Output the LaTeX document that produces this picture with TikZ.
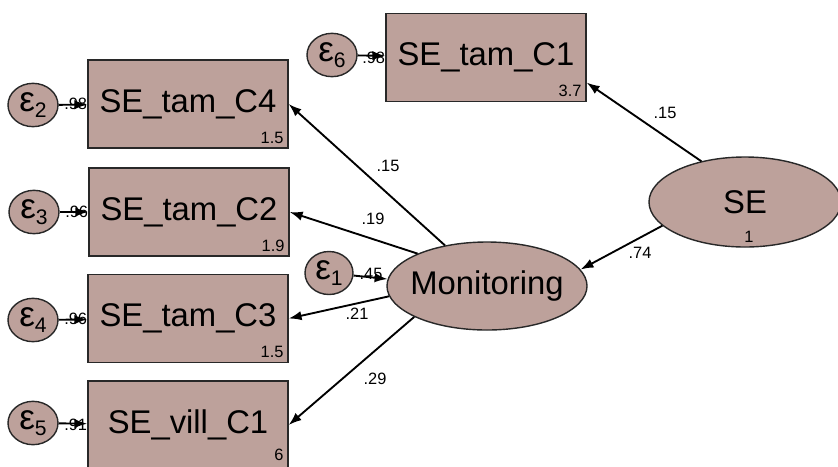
\documentclass[tikz,border=0pt]{standalone}
\usepackage{fontspec}
\setmainfont{Liberation Sans}
\usetikzlibrary{arrows.meta,shapes.geometric}
\usepackage{xcolor}

\definecolor{semfill}{RGB}{189,161,155}
\definecolor{semline}{RGB}{40,40,40}

\newcommand{\errlab}[1]{{\fontsize{30}{30}\selectfont ε}\raisebox{-5pt}{\fontsize{18}{18}\selectfont #1}}

\begin{document}
\begin{tikzpicture}[x=0.03cm, y=-0.03cm,
    every node/.style={
        inner sep=0pt,
        font=\fontsize{28}{30}\selectfont
    },
    obsbox/.style={rectangle, draw=semline, line width=1.2pt, fill=semfill,
        minimum width=6cm, minimum height=2.64cm},
    latent/.style={ellipse, draw=semline, line width=1.2pt, fill=semfill},
    errcirc/.style={ellipse, draw=semline, line width=1.2pt, fill=semfill,
        minimum width=1.5cm, minimum height=1.3cm},
    coef/.style={font=\fontsize{14}{14}\selectfont},
    varlab/.style={font=\fontsize{14}{14}\selectfont},
    link/.style={-{Latex[length=11pt,width=8pt]}, line width=1.6pt, black}
]

    \useasboundingbox (0,0) rectangle (838,466);



    \node (se_tam_c1) [obsbox, shift={(486,57.5)}]
    {
        SE\_tam\_C1
    };

    \node (se_tam_c4) [obsbox, shift={(188,104)}]
    {
        SE\_tam\_C4
    };

    \node (se_tam_c2) [obsbox, shift={(189,212)}]
    {
        SE\_tam\_C2
    };

    \node (se_tam_c3) [obsbox, shift={(188,318.5)}]
    {
        SE\_tam\_C3
    };

    \node (se_vill_c1) [obsbox, shift={(188,425)}]
    {
        SE\_vill\_C1
    };

    \node (se_tam_c1_var) [varlab, anchor=south east] at ([shift={(-5,-5)}]se_tam_c1.south east) {3.7};
    \node (se_tam_c4_var) [varlab, anchor=south east] at ([shift={(-5,-5)}]se_tam_c4.south east) {1.5};
    \node (se_tam_c2_var) [varlab, anchor=south east] at ([shift={(-5,-5)}]se_tam_c2.south east) {1.9};
    \node (se_tam_c3_var) [varlab, anchor=south east] at ([shift={(-5,-5)}]se_tam_c3.south east) {1.5};
    \node (se_vill_c1_var) [varlab, anchor=south east] at ([shift={(-5,-9)}]se_vill_c1.south east) {6};



    \node (monitoring) [latent, inner xsep=-5pt, minimum width=6cm, minimum height=2.64cm, shift={(487,286)}]
    {
        Monitoring
    };

    \node (se) [latent, minimum width=5.76cm, minimum height=2.7cm, shift={(745,202)}]
    {
        SE
    };

    \node (se_var) [varlab, anchor=south] at ([shift={(4,-5)}]se.south) {1};



    \node (eps_1) [errcirc, minimum width=1.44cm, minimum height=1.29cm, shift={(329,273)}] {\errlab{1}};
    \node (eps_2) [errcirc, shift={(33,105)}] {\errlab{2}};
    \node (eps_3) [errcirc, shift={(34,212)}] {\errlab{3}};
    \node (eps_4) [errcirc, shift={(33,320)}] {\errlab{4}};
    \node (eps_5) [errcirc, shift={(33,423)}] {\errlab{5}};
    \node (eps_6) [errcirc, shift={(332,55)}] {\errlab{6}};


    % error variances, under the arrow heads
    \node (eps_1_coef) [coef] at (371,274) {.45};
    \node (eps_2_coef) [coef, anchor=east] at (se_tam_c4.west) {.98};
    \node (eps_3_coef) [coef, anchor=east] at (se_tam_c2.west) {.96};
    \node (eps_4_coef) [coef, anchor=east] at (se_tam_c3.west) {.96};
    \node (eps_5_coef) [coef, anchor=east] at (se_vill_c1.west) {.91};
    \node (eps_6_coef) [coef, anchor=east] at (se_tam_c1.west) {.98};


    \draw[link] (eps_1) to (monitoring.176);
    \draw[link] (eps_2) to (se_tam_c4);
    \draw[link] (eps_3) to (se_tam_c2);
    \draw[link] (eps_4) to (se_tam_c3);
    \draw[link] (eps_5) to (se_vill_c1);
    \draw[link] (eps_6) to (se_tam_c1);


    \draw[link] (se.137) to (se_tam_c1.-14);
    \draw[link] (se.196) to (monitoring.10);

    \draw[link] (monitoring.136) to (se_tam_c4.east);
    \draw[link] (monitoring.155) to (se_tam_c2.east);
    \draw[link] (monitoring.186) to (se_tam_c3.east);
    \draw[link] (monitoring.203) to (se_vill_c1.east);


    \node (se_c1_coef) [coef] at (665,113) {.15};
    \node (se_mon_coef) [coef] at (640,253) {.74};
    \node (mon_c4_coef) [coef] at (388,166) {.15};
    \node (mon_c2_coef) [coef] at (373,219) {.19};
    \node (mon_c3_coef) [coef] at (357,314) {.21};
    \node (mon_vill_coef) [coef] at (375,379) {.29};


\end{tikzpicture}
\end{document}
